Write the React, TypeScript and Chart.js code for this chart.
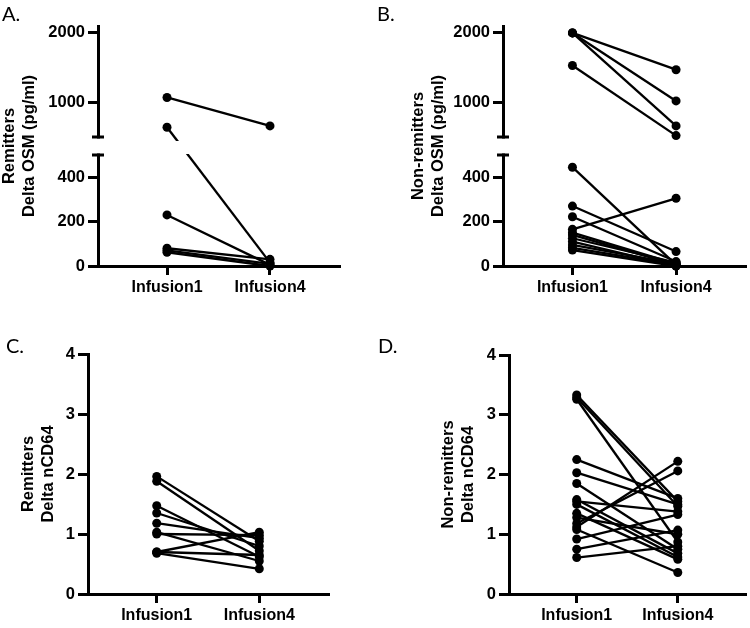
import React, { useEffect, useRef } from 'react';
import { Chart, registerables, LinearScale } from 'chart.js';

// ---------- data ----------
const CATEGORIES = ['Infusion1', 'Infusion4'];
const OSM_TICKS = [0, 200, 400, 1000, 2000];
const CD64_TICKS = [0, 1, 2, 3, 4];
const OSM_BREAK = 500;

const A_INF1 = [1070, 640, 230, 80, 70, 62];
const A_INF4 = [660, 15, 5, 30, 10, 0];

const B_INF1 = [2000, 2000, 2000, 1530, 445, 270, 222, 165, 150, 140, 125, 110, 95, 82, 72];
const B_INF4 = [1470, 1020, 660, 520, 5, 65, 20, 305, 10, 5, 15, 0, 10, 5, 0];

const C_INF1 = [1.96, 1.88, 1.47, 1.35, 1.18, 1.03, 1.0, 0.7, 0.68, 0.7];
const C_INF4 = [0.88, 0.72, 0.62, 0.8, 0.93, 0.55, 0.98, 1.03, 0.42, 0.65];

const D_INF1 = [3.33, 3.29, 3.26, 2.25, 2.03, 1.85, 1.58, 1.55, 1.5, 1.35, 1.28, 1.18, 1.12, 1.08, 0.92, 0.75, 0.61];
const D_INF4 = [1.55, 1.47, 0.87, 1.6, 1.5, 0.75, 0.68, 1.38, 0.62, 0.58, 1.0, 2.06, 2.22, 0.36, 1.33, 1.07, 0.8];

// ---------- broken linear scale ----------
const GAP_FRAC = 0.075;

class BrokenLinearScale extends LinearScale {
  static id = 'brokenLinear';
  static defaults = (LinearScale as any).defaults;
  segLen(): number {
    const s: any = this;
    return (s.bottom - s.top) * (1 - GAP_FRAC) / 2;
  }
  gapTopPx(): number {
    const s: any = this;
    return s.top + this.segLen();
  }
  gapBottomPx(): number {
    const s: any = this;
    return s.bottom - this.segLen();
  }
  getPixelForValue(value: any): number {
    const s: any = this;
    if (value === null || value === undefined || isNaN(value)) return NaN;
    const brk = s.options.breakAt;
    const seg = this.segLen();
    if (value <= brk) return s.bottom - ((value - s.min) / (brk - s.min)) * seg;
    return this.gapTopPx() - ((value - brk) / (s.max - brk)) * seg;
  }
  getValueForPixel(px: number): number {
    const s: any = this;
    const brk = s.options.breakAt;
    const seg = this.segLen();
    if (px >= this.gapBottomPx()) return s.min + ((s.bottom - px) / seg) * (brk - s.min);
    return brk + ((this.gapTopPx() - px) / seg) * (s.max - brk);
  }
}

Chart.register(...registerables, BrokenLinearScale);

const axisBreakPlugin = {
  id: 'axisBreak',
  beforeDatasetsDraw(chart: any) {
    const y = chart.scales.y;
    if (!(y instanceof BrokenLinearScale)) return;
    const ctx = chart.ctx;
    const gt = y.gapTopPx();
    const gb = y.gapBottomPx();
    const ax = chart.chartArea.left;
    ctx.save();
    ctx.fillStyle = '#fff';
    ctx.fillRect(ax - 8, gt + 1.5, 16, gb - gt - 3);
    ctx.strokeStyle = '#000';
    ctx.lineWidth = 3;
    ctx.beginPath();
    ctx.moveTo(ax - 6, gt);
    ctx.lineTo(ax + 6, gt);
    ctx.moveTo(ax - 6, gb);
    ctx.lineTo(ax + 6, gb);
    ctx.stroke();
    ctx.restore();
    ctx.save();
    ctx.beginPath();
    ctx.rect(0, 0, chart.width, gt + 4);
    ctx.rect(0, gb - 1, chart.width, chart.height - gb + 1);
    ctx.clip();
  },
  afterDatasetsDraw(chart: any) {
    if (chart.scales.y instanceof BrokenLinearScale) chart.ctx.restore();
  },
};

// ---------- config ----------
const FONT = "Arial, 'Liberation Sans', Helvetica, sans-serif";

interface PanelSpec {
  inf1: number[];
  inf4: number[];
  title: string[];
  broken: boolean;
  yMax: number;
  ticks: number[];
  padLeft: number;
  padRight: number;
  padTop: number;
  yWidth: number;
  xHeight: number;
}

function makeConfig(p: PanelSpec): any {
  const datasets = p.inf1.map((v, i) => ({
    data: [
      { x: 1, y: v },
      { x: 2, y: p.inf4[i] },
    ],
    borderColor: '#000',
    backgroundColor: '#000',
    borderWidth: 2.3,
    pointRadius: 4.5,
    pointBackgroundColor: '#000',
    pointBorderWidth: 0,
    clip: false,
  }));
  const yScale: any = {
    type: p.broken ? 'brokenLinear' : 'linear',
    min: 0,
    max: p.yMax,
    afterBuildTicks: (s: any) => {
      s.ticks = p.ticks.map((v) => ({ value: v }));
    },
    afterFit: (s: any) => {
      s.width = p.yWidth;
      s.paddingTop = 0;
      s.paddingBottom = 0;
    },
    border: { display: true, color: '#000', width: 3 },
    grid: { drawOnChartArea: false, color: '#000', lineWidth: 3, tickLength: 10 },
    ticks: {
      color: '#000',
      padding: 3,
      font: { family: FONT, size: 16.5, weight: 'bold' },
      callback: (v: any) => String(v),
    },
    title: {
      display: true,
      text: p.title,
      color: '#000',
      padding: { top: 0, bottom: 0 },
      font: { family: FONT, size: 16.5, weight: 'bold', lineHeight: 1.2 },
    },
  };
  if (p.broken) yScale.breakAt = OSM_BREAK;
  return {
    type: 'line',
    data: { datasets },
    plugins: [axisBreakPlugin],
    options: {
      animation: false,
      responsive: false,
      events: [],
      layout: { padding: { left: p.padLeft, right: p.padRight, top: p.padTop, bottom: 0 } },
      plugins: { legend: { display: false }, tooltip: { enabled: false } },
      scales: {
        x: {
          type: 'linear',
          min: 0.33,
          max: 2.67,
          afterBuildTicks: (s: any) => {
            s.ticks = CATEGORIES.map((_, i) => ({ value: i + 1 }));
          },
          afterFit: (s: any) => {
            s.height = p.xHeight;
            s.paddingLeft = 0;
            s.paddingRight = 0;
          },
          border: { display: true, color: '#000', width: 3 },
          grid: { drawOnChartArea: false, color: '#000', lineWidth: 3, tickLength: 9 },
          ticks: {
            color: '#000',
            padding: 3,
            maxRotation: 0,
            autoSkip: false,
            font: { family: FONT, size: 16, weight: 'bold' },
            callback: (v: any) => CATEGORIES[Math.round(v) - 1] ?? '',
          },
        },
        y: yScale,
      },
    },
  };
}

const PANELS: { spec: PanelSpec; left: number; top: number; w: number; h: number; label: string; lx: number; ly: number }[] = [
  {
    spec: { inf1: A_INF1, inf4: A_INF4, title: ['Remitters', 'Delta OSM (pg/ml)'], broken: true, yMax: 2100, ticks: OSM_TICKS, padLeft: 0, padRight: 36, padTop: 26, yWidth: 98, xHeight: 34 },
    left: 0, top: 0, w: 375, h: 300, label: 'A.', lx: 2, ly: 1,
  },
  {
    spec: { inf1: B_INF1, inf4: B_INF4, title: ['Non-remitters', 'Delta OSM (pg/ml)'], broken: true, yMax: 2100, ticks: OSM_TICKS, padLeft: 34, padRight: 3, padTop: 26, yWidth: 94, xHeight: 34 },
    left: 375, top: 0, w: 375, h: 300, label: 'B.', lx: 377, ly: 1,
  },
  {
    spec: { inf1: C_INF1, inf4: C_INF4, title: ['Remitters', 'Delta nCD64'], broken: false, yMax: 4, ticks: CD64_TICKS, padLeft: 19, padRight: 47, padTop: 54, yWidth: 69, xHeight: 34 },
    left: 0, top: 300, w: 375, h: 328, label: 'C.', lx: 6, ly: 333,
  },
  {
    spec: { inf1: D_INF1, inf4: D_INF4, title: ['Non-remitters', 'Delta nCD64'], broken: false, yMax: 4, ticks: CD64_TICKS, padLeft: 64, padRight: 2, padTop: 55, yWidth: 70, xHeight: 34 },
    left: 375, top: 300, w: 375, h: 328, label: 'D.', lx: 378, ly: 333,
  },
];

function Panel({ spec, left, top, w, h }: { spec: PanelSpec; left: number; top: number; w: number; h: number }) {
  const ref = useRef<HTMLCanvasElement>(null);
  useEffect(() => {
    const chart = new Chart(ref.current as HTMLCanvasElement, makeConfig(spec));
    return () => chart.destroy();
  }, [spec]);
  return (
    <canvas
      ref={ref}
      width={w}
      height={h}
      style={{ position: 'absolute', left, top, width: w, height: h, display: 'block' }}
    />
  );
}

export default function App() {
  return (
    <div style={{ position: 'absolute', left: 0, top: 0, width: 750, height: 628, background: '#fff', overflow: 'hidden' }}>
      {PANELS.map((p, i) => (
        <Panel key={i} spec={p.spec} left={p.left} top={p.top} w={p.w} h={p.h} />
      ))}
      {PANELS.map((p, i) => (
        <div
          key={'l' + i}
          style={{ position: 'absolute', left: p.lx, top: p.ly, fontFamily: 'Lato, "Open Sans", sans-serif', fontSize: 20, lineHeight: '24px', color: '#000' }}
        >
          {p.label}
        </div>
      ))}
    </div>
  );
}
